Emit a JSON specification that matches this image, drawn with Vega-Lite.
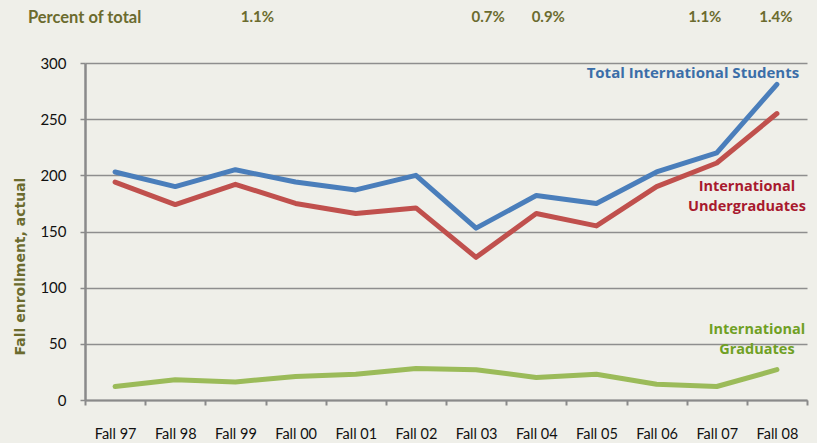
{
  "$schema": "https://vega.github.io/schema/vega-lite/v6.json",
  "autosize": "none",
  "width": 722,
  "height": 337,
  "padding": {"left": 85, "top": 63, "right": 10, "bottom": 43},
  "background": "#efefe9",
  "config": {"view": {"stroke": null}, "font": "Lato"},
  "title": {"text": "Percent of total", "anchor": "start", "frame": "bounds", "offset": -16, "fontSize": 16.5, "font": "Lato", "fontWeight": "bold", "color": "#6b6b2e", "dx": 14},
  "datasets": {
    "enroll": [
      {"year": "Fall 97", "series": "Total", "value": 203},
      {"year": "Fall 98", "series": "Total", "value": 190},
      {"year": "Fall 99", "series": "Total", "value": 205},
      {"year": "Fall 00", "series": "Total", "value": 194},
      {"year": "Fall 01", "series": "Total", "value": 187},
      {"year": "Fall 02", "series": "Total", "value": 200},
      {"year": "Fall 03", "series": "Total", "value": 153},
      {"year": "Fall 04", "series": "Total", "value": 182},
      {"year": "Fall 05", "series": "Total", "value": 175},
      {"year": "Fall 06", "series": "Total", "value": 203},
      {"year": "Fall 07", "series": "Total", "value": 220},
      {"year": "Fall 08", "series": "Total", "value": 281},
      {"year": "Fall 97", "series": "Undergrad", "value": 194},
      {"year": "Fall 98", "series": "Undergrad", "value": 174},
      {"year": "Fall 99", "series": "Undergrad", "value": 192},
      {"year": "Fall 00", "series": "Undergrad", "value": 175},
      {"year": "Fall 01", "series": "Undergrad", "value": 166},
      {"year": "Fall 02", "series": "Undergrad", "value": 171},
      {"year": "Fall 03", "series": "Undergrad", "value": 127},
      {"year": "Fall 04", "series": "Undergrad", "value": 166},
      {"year": "Fall 05", "series": "Undergrad", "value": 155},
      {"year": "Fall 06", "series": "Undergrad", "value": 190},
      {"year": "Fall 07", "series": "Undergrad", "value": 211},
      {"year": "Fall 08", "series": "Undergrad", "value": 255},
      {"year": "Fall 97", "series": "Grad", "value": 12},
      {"year": "Fall 98", "series": "Grad", "value": 18},
      {"year": "Fall 99", "series": "Grad", "value": 16},
      {"year": "Fall 00", "series": "Grad", "value": 21},
      {"year": "Fall 01", "series": "Grad", "value": 23},
      {"year": "Fall 02", "series": "Grad", "value": 28},
      {"year": "Fall 03", "series": "Grad", "value": 27},
      {"year": "Fall 04", "series": "Grad", "value": 20},
      {"year": "Fall 05", "series": "Grad", "value": 23},
      {"year": "Fall 06", "series": "Grad", "value": 14},
      {"year": "Fall 07", "series": "Grad", "value": 12},
      {"year": "Fall 08", "series": "Grad", "value": 27}
    ],
    "pct": [
      {"year": "Fall 99", "pct": "1.1%", "grp": "far"},
      {"year": "Fall 03", "pct": "0.7%", "grp": "right"},
      {"year": "Fall 04", "pct": "0.9%", "grp": "right"},
      {"year": "Fall 07", "pct": "1.1%", "grp": "left"},
      {"year": "Fall 08", "pct": "1.4%", "grp": "none"}
    ],
    "labels": [
      {"year": "Fall 08", "series": "Total", "value": 291, "label": "Total International Students"},
      {"year": "Fall 08", "series": "Undergrad", "value": 189.5, "label": "International\nUndergraduates"},
      {"year": "Fall 08", "series": "Grad", "value": 62, "label": "International\nGraduates"}
    ]
  },
  "encoding": {
    "x": {
      "field": "year", "type": "nominal", "sort": null,
      "scale": {"type": "band", "paddingInner": 0, "paddingOuter": 0,
        "domain": ["Fall 97","Fall 98","Fall 99","Fall 00","Fall 01","Fall 02","Fall 03","Fall 04","Fall 05","Fall 06","Fall 07","Fall 08"]},
      "axis": {"title": null, "labelAngle": 0, "tickBand": "extent", "domainColor": "#8a8a8a", "domainWidth": 2, "tickColor": "#8a8a8a", "tickWidth": 2, "tickSize": 5, "labelPadding": 22, "labelFontSize": 14.5, "labelColor": "#111111", "labelFont": "Lato", "grid": false}
    }
  },
  "layer": [
    {
      "data": {"name": "enroll"},
      "mark": {"type": "line", "strokeWidth": 5, "strokeCap": "round", "strokeJoin": "round"},
      "encoding": {
        "y": {"field": "value", "type": "quantitative", "scale": {"domain": [0, 300], "nice": false},
          "axis": {"values": [0,50,100,150,200,250,300], "title": "Fall enrollment, actual", "titleColor": "#6b6b2e", "titleFontSize": 14, "titleFont": "DejaVu Sans", "titleFontWeight": "bold", "titlePadding": 12, "titleY": 203,
            "grid": true, "gridColor": "#8e8e8e", "gridWidth": 1.5, "domainColor": "#8a8a8a", "domainWidth": 2.5, "tickColor": "#8a8a8a", "tickWidth": 1.5, "tickSize": 5, "labelPadding": 14, "labelFontSize": 15, "labelColor": "#111111", "labelFont": "Lato"}},
        "color": {"field": "series", "type": "nominal", "legend": null,
          "scale": {"domain": ["Total", "Undergrad", "Grad"], "range": ["#4a7ebb", "#c0504d", "#9bbb59"]}}
      }
    },
    {
      "data": {"name": "labels"},
      "layer": [
        {"transform": [{"filter": "datum.series == 'Total'"}], "mark": {"type": "text", "dx": -84, "fontSize": 15, "fontWeight": "bold", "font": "Open Sans", "lineBreak": "\n", "lineHeight": 20}},
        {"transform": [{"filter": "datum.series == 'Undergrad'"}], "mark": {"type": "text", "dx": -30, "fontSize": 14.5, "fontWeight": "bold", "font": "Open Sans", "lineBreak": "\n", "lineHeight": 20}},
        {"transform": [{"filter": "datum.series == 'Grad'"}], "mark": {"type": "text", "dx": -20, "fontSize": 14.5, "fontWeight": "bold", "font": "Open Sans", "lineBreak": "\n", "lineHeight": 20}}
      ],
      "encoding": {
        "y": {"field": "value", "type": "quantitative"},
        "text": {"field": "label"},
        "color": {"field": "series", "type": "nominal", "legend": null,
          "scale": {"domain": ["Total", "Undergrad", "Grad"], "range": ["#3b6ea8", "#a8192e", "#6fa024"]}}
      }
    },
    {
      "data": {"name": "pct"},
      "encoding": {"text": {"field": "pct"}},
      "layer": [
        {"transform": [{"filter": "datum.grp == 'far'"}], "mark": {"type": "text", "fontSize": 15, "fontWeight": "bold", "font": "Lato", "color": "#6b6b2e", "y": -46, "dx": 22}},
        {"transform": [{"filter": "datum.grp == 'left'"}], "mark": {"type": "text", "fontSize": 15, "fontWeight": "bold", "font": "Lato", "color": "#6b6b2e", "y": -46, "dx": -12}},
        {"transform": [{"filter": "datum.grp == 'right'"}], "mark": {"type": "text", "fontSize": 15, "fontWeight": "bold", "font": "Lato", "color": "#6b6b2e", "y": -46, "dx": 12}},
        {"transform": [{"filter": "datum.grp == 'none'"}], "mark": {"type": "text", "fontSize": 15, "fontWeight": "bold", "font": "Lato", "color": "#6b6b2e", "y": -46, "dx": -1}}
      ]
    }
  ],
  "resolve": {"scale": {"color": "independent"}}
}
